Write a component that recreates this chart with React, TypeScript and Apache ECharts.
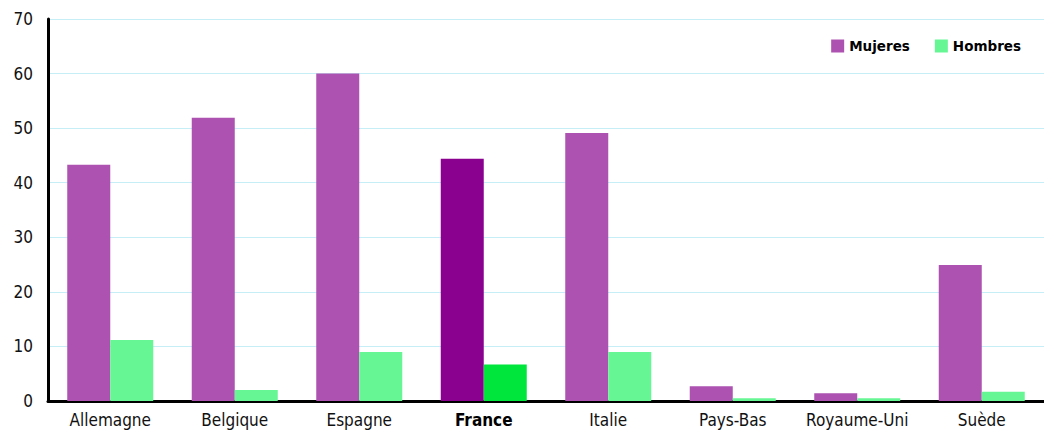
import React, { useEffect, useRef } from "react";
import * as echarts from "echarts";

// Countries on the category axis
const countries = [
  "Allemagne",
  "Belgique",
  "Espagne",
  "France",
  "Italie",
  "Pays-Bas",
  "Royaume-Uni",
  "Suède",
];

// Share per country, women and men
const mujeres = [43.3, 51.9, 60, 44.4, 49.1, 2.7, 1.4, 24.9];
const hombres = [11.2, 2.0, 9.0, 6.7, 9.0, 0.5, 0.5, 1.7];

// Y axis ticks
const yMin = 0;
const yMax = 70;
const yStep = 10;

// Country drawn with stronger colours and a bold label
const highlighted = "France";

const PURPLE = "#ad52b0";
const GREEN = "#66f794";
const PURPLE_DARK = "#8a008f";
const GREEN_DARK = "#00e63c";
const FONT = "'DejaVu Sans Condensed', 'Liberation Sans Narrow', 'Arial Narrow', sans-serif";

export default function App() {
  const ref = useRef<HTMLDivElement>(null);

  useEffect(() => {
    if (!ref.current) return;
    const chart = echarts.init(ref.current, null, { renderer: "svg" });

    const seriesData = (values: number[], base: string, strong: string) =>
      values.map((v, i) => ({
        value: v,
        itemStyle: { color: countries[i] === highlighted ? strong : base },
      }));

    chart.setOption({
      animation: false,
      backgroundColor: "#ffffff",
      grid: { left: 48, right: -12, top: 19, bottom: 29, containLabel: false },
      legend: {
        right: 23,
        top: 39,
        padding: 0,
        itemWidth: 13,
        itemHeight: 13,
        itemGap: 25,
        icon: "rect",
        textStyle: {
          fontFamily: "'DejaVu Sans', Verdana, sans-serif",
          fontWeight: "bold",
          fontSize: 13.5,
          color: "#000",
        },
        data: [
          { name: "Mujeres", itemStyle: { color: PURPLE } },
          { name: "Hombres", itemStyle: { color: GREEN } },
        ],
      },
      xAxis: {
        type: "category",
        data: countries,
        axisLine: { show: true, lineStyle: { color: "#000", width: 3 } },
        axisTick: { show: false },
        axisLabel: {
          interval: 0,
          margin: 10,
          fontSize: 17,
          fontFamily: FONT,
          color: "#111",
          formatter: (v: string) => (v === highlighted ? `{b|${v}}` : v),
          rich: {
            b: { fontWeight: "bold", fontSize: 17, fontFamily: FONT, color: "#000" },
          },
        },
      },
      yAxis: {
        type: "value",
        min: yMin,
        max: yMax,
        interval: yStep,
        axisLine: { show: true, lineStyle: { color: "#000", width: 3 } },
        axisTick: { show: false },
        axisLabel: { margin: 15, fontSize: 17, fontFamily: FONT, color: "#111" },
        splitLine: { show: true, lineStyle: { color: "#c6eef6", width: 1 } },
      },
      series: [
        {
          name: "Mujeres",
          type: "bar",
          barWidth: 43,
          barGap: "0%",
          itemStyle: { color: PURPLE },
          data: seriesData(mujeres, PURPLE, PURPLE_DARK),
        },
        {
          name: "Hombres",
          type: "bar",
          barWidth: 43,
          barGap: "0%",
          itemStyle: { color: GREEN },
          data: seriesData(hombres, GREEN, GREEN_DARK),
        },
      ],
    });

    return () => chart.dispose();
  }, []);

  return (
    <div
      ref={ref}
      style={{ position: "fixed", left: 0, top: 0, width: 1044, height: 430, background: "#fff" }}
    />
  );
}
